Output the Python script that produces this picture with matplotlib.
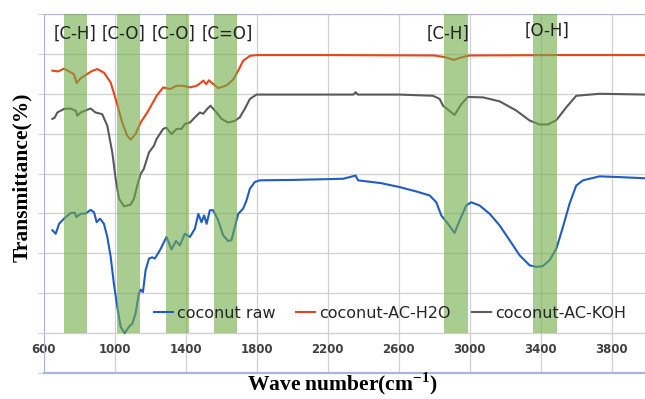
import matplotlib
matplotlib.use('Agg')
import matplotlib.pyplot as plt

# wave numbers (cm-1) and transmittance (arbitrary offset units)
raw_x = [647, 666, 685, 713, 750, 773, 782, 807, 835, 863, 882, 897, 916, 938, 957, 976, 994,
         1013, 1032, 1055, 1079, 1098, 1116, 1135, 1145, 1158, 1173, 1192, 1210, 1225, 1254, 1291,
         1319, 1344, 1366, 1394, 1423, 1451, 1470, 1488, 1503, 1517, 1535, 1554, 1582, 1610, 1638,
         1657, 1676, 1695, 1723, 1742, 1761, 1789, 1817, 2000, 2200, 2287, 2357, 2371, 2500, 2606,
         2700, 2775, 2812, 2840, 2878, 2915, 2944, 2981, 3009, 3056, 3113, 3169, 3225, 3282, 3338,
         3376, 3413, 3451, 3489, 3526, 3563, 3601, 3639, 3732, 3850, 4000]
raw_y = [2.58, 2.49, 2.74, 2.87, 3.01, 3.02, 2.91, 2.99, 3.00, 3.09, 3.03, 2.78, 2.87, 2.74, 2.41, 1.91, 1.24,
         0.66, 0.16, 0.00, 0.16, 0.24, 0.49, 0.99, 1.09, 1.03, 1.58, 1.87, 1.90, 1.87, 2.08, 2.41,
         2.10, 2.31, 2.20, 2.49, 2.41, 2.62, 2.99, 2.78, 2.95, 2.74, 3.08, 3.08, 2.83, 2.45, 2.31,
         2.33, 2.66, 2.99, 3.12, 3.33, 3.62, 3.79, 3.83, 3.84, 3.86, 3.87, 3.95, 3.83, 3.76, 3.66,
         3.55, 3.45, 3.28, 2.95, 2.74, 2.51, 2.83, 3.20, 3.28, 3.20, 2.99, 2.70, 2.33, 1.95, 1.70,
         1.66, 1.68, 1.83, 2.12, 2.66, 3.24, 3.70, 3.83, 3.93, 3.91, 3.88]

h2o_x = [647, 680, 713, 769, 784, 807, 835, 870, 900, 938, 976, 1004, 1041, 1069, 1088, 1116, 1145,
         1182, 1210, 1235, 1272, 1310, 1348, 1385, 1423, 1460, 1480, 1498, 1515, 1530, 1545, 1582,
         1629, 1667, 1695, 1723, 1761, 1800, 2200, 2800, 2860, 2910, 2960, 3000, 3500, 4000]
h2o_y = [6.58, 6.56, 6.63, 6.49, 6.27, 6.39, 6.47, 6.57, 6.62, 6.53, 6.28, 5.87, 5.28, 4.95, 4.85, 4.99, 5.28,
         5.53, 5.75, 5.95, 6.16, 6.12, 6.20, 6.20, 6.16, 6.20, 6.26, 6.33, 6.24, 6.34, 6.28, 6.14,
         6.21, 6.36, 6.58, 6.83, 6.95, 6.97, 6.97, 6.96, 6.92, 6.85, 6.92, 6.96, 6.97, 6.97]

koh_x = [647, 660, 675, 713, 750, 780, 788, 807, 844, 863, 891, 928, 957, 985, 1004, 1023, 1051,
         1088, 1107, 1126, 1145, 1163, 1192, 1220, 1235, 1272, 1290, 1319, 1348, 1376, 1394, 1423,
         1460, 1479, 1498, 1520, 1539, 1573, 1601, 1638, 1676, 1704, 1732, 1761, 1798, 2200, 2345,
         2357, 2370, 2606, 2793, 2831, 2850, 2915, 2953, 2990, 3075, 3169, 3263, 3338, 3394, 3441,
         3489, 3545, 3601, 3732, 4000]
koh_y = [5.37, 5.40, 5.53, 5.62, 5.63, 5.57, 5.45, 5.53, 5.60, 5.63, 5.53, 5.49, 5.20, 4.53, 3.87, 3.37, 3.18,
         3.22, 3.37, 3.70, 3.99, 4.12, 4.53, 4.70, 4.87, 5.12, 5.15, 4.99, 5.12, 5.12, 5.24, 5.28,
         5.45, 5.53, 5.50, 5.62, 5.70, 5.53, 5.37, 5.28, 5.32, 5.41, 5.62, 5.87, 5.98, 5.98, 5.98,
         6.04, 5.98, 5.98, 5.95, 5.87, 5.70, 5.47, 5.74, 5.92, 5.91, 5.81, 5.58, 5.33, 5.23, 5.23,
         5.34, 5.66, 5.95, 6.00, 5.98]

# highlighted absorption bands
band_lo = [710, 1010, 1290, 1560, 2855, 3360]
band_hi = [840, 1140, 1420, 1690, 2990, 3495]
band_names = ['[C-H]', '[C-O]', '[C-O]', '[C=O]', '[C-H]', '[O-H]']
name_x = [777, 1048, 1332, 1631, 2879, 3437]
name_y = [7.5, 7.5, 7.5, 7.5, 7.51, 7.59]

xticks = [600, 1000, 1400, 1800, 2200, 2600, 3000, 3400, 3800]

plt.rcParams['mathtext.fontset'] = 'custom'
plt.rcParams['mathtext.rm'] = 'Liberation Serif:bold'

fig = plt.figure(figsize=(6.45, 3.99), dpi=100)
ax = fig.add_axes([44/645, 26/399, 603/645, 359/399])

grid_c = '#d0d0d0'
border_c = '#a9b6d4'

ax.plot(raw_x, raw_y, color='#1f5cc4', lw=1.5, label='coconut raw', zorder=3)
ax.plot(h2o_x, h2o_y, color='#e8461a', lw=1.5, label='coconut-AC-H2O', zorder=3)
ax.plot(koh_x, koh_y, color='#5a5a5a', lw=1.5, label='coconut-AC-KOH', zorder=3)

for lo, hi in zip(band_lo, band_hi):
    ax.axvspan(lo, hi, ymin=1/9, ymax=1, color='#70ad47', alpha=0.6, lw=0, zorder=4)

for nx, ny, nm in zip(name_x, name_y, band_names):
    ax.text(nx, ny, nm, ha='center', va='center', fontsize=12, color='#222222', zorder=5)

ax.set_xlim(600, 4000)
ax.set_ylim(-1, 8)
ax.set_xticks(xticks)
ax.set_yticks(range(-1, 9))
ax.set_yticklabels([])
ax.grid(True, color=grid_c, lw=0.9, zorder=1)
ax.set_axisbelow(True)

ax.spines['bottom'].set_position(('data', 0))
ax.spines['bottom'].set_color(grid_c)
ax.spines['right'].set_visible(False)
ax.spines['left'].set_color(border_c)
ax.spines['top'].set_color(border_c)
ax.axhline(-1, color=border_c, lw=1.6, clip_on=False, zorder=2)

ax.tick_params(axis='x', length=0, pad=7, labelsize=8.5, labelcolor='#404040')
for t in ax.get_xticklabels():
    t.set_fontweight('bold')
ax.tick_params(axis='y', length=4, color=grid_c)

lgd = ax.legend(loc='center', bbox_to_anchor=(2549, 0.5), bbox_transform=ax.transData,
                ncol=3, frameon=False, fontsize=11.5, handlelength=1.2, handletextpad=0.25,
                columnspacing=1.3, borderpad=0)
for t in lgd.get_texts():
    t.set_color('#262626')
lgd.set_zorder(6)

fig.text(22/645, 0.556, 'Transmittance(%)', rotation=90, ha='center', va='center',
         family='Liberation Serif', fontweight='bold', fontsize=15.5)
fig.text(342/645, 0.038, 'Wave number(cm$^{-1}$)', ha='center', va='center',
         family='Liberation Serif', fontweight='bold', fontsize=15.5)

plt.savefig('out.png', dpi=100)
